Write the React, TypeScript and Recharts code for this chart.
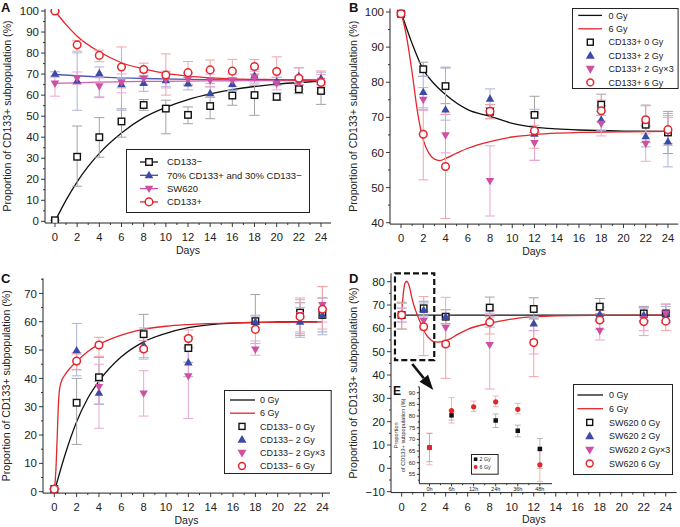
import React from "react";
import {
  ComposedChart,
  Line,
  Scatter,
  XAxis,
  YAxis,
  ErrorBar,
  Legend,
  Label,
  ReferenceArea,
  ReferenceLine,
} from "recharts";

const FONT = '"Liberation Sans", Arial, Helvetica, sans-serif';
const INK = "#222";
const BLACK = "#111";
const BLUE = "#3b4aa6";
const MAGENTA = "#cf4fa3";
const RED = "#e4252b";
const ERR_BLACK = "#a3a3a3";
const ERR_BLUE = "#aab3dc";
const ERR_MAGENTA = "#eaa6d2";
const ERR_RED = "#f2a3a5";
const Y_TITLE = "Proportion of CD133+ subpopulation (%)";

// ---- sampling days
const DAYS_A = [0, 2, 4, 6, 8, 10, 12, 14, 16, 18, 20, 22, 24];
const DAYS_BCD = [0, 2, 4, 8, 12, 18, 22, 24];

// ---- A: sorted subpopulations
const A_NEG = [0.5, 30.7, 40, 47.5, 55.3, 53.6, 50.6, 54.8, 59.8, 60, 59.2, 62.8, 62];
const A_NEG_ERR = [[0, 0], [14, 14.6], [9.5, 9.3], [7.5, 6], [2.5, 2.6], [12, 4], [4.2, 3.8], [6, 4.2], [4.6, 2.5], [9.6, 4.7], [1.6, 1.8], [2.1, 1.9], [6.4, 4.3]];
const A_MIX = [70.1, 66.8, 70.4, 65.2, 65.8, 67, 65.5, 60.9, 65.3, 69.3, 66.5, 69, 67.9];
const A_MIX_ERR = [[1, 1], [14, 13.3], [11.6, 3], [12.4, 3], [4, 3], [3, 4], [3, 3], [2, 3], [3, 3], [3, 3], [2, 2], [3, 4], [3, 3]];
const A_SW = [65.5, 68, 64.2, 66.1, 67.9, 67.4, 67.6, 67, 67, 68.4, 65.5, 65.8, 66.8];
const A_SW_ERR = [[6, 3], [3, 3], [5, 4], [5, 4], [3, 3], [4, 4], [3, 3], [3, 3], [3, 3], [3, 3], [3, 3], [3, 3], [3, 3]];
const A_POS = [100, 83.9, 78.9, 73.4, 72.2, 69.6, 70.7, 72, 71.4, 73.6, 71.2, 68, 66];
const A_POS_ERR = [[0, 0], [3, 2], [3, 2.5], [10, 9.5], [3, 3], [9.6, 10], [5.5, 5.3], [6.5, 4.7], [5, 5.6], [3.5, 3.3], [6.5, 7], [3, 5], [5, 5.5]];

const A_NEG_FIT_X = [0, 1, 2, 3, 4, 6, 8, 10, 12, 14, 16, 18, 20, 22, 24];
const A_NEG_FIT_Y = [0, 10.1, 18.8, 26.1, 32.3, 42, 49.3, 54.2, 57.9, 60.6, 62.6, 64.1, 65.2, 66, 66.6];
const A_POS_FIT_X = [0, 1, 2, 4, 6, 8, 10, 12, 14, 16, 18, 20, 22, 24];
const A_POS_FIT_Y = [100, 93.5, 88, 80.6, 75.4, 72.5, 70.3, 69, 68.2, 67.7, 67.5, 67.4, 67.2, 67.1];
const A_FLAT_FIT_X = [0, 4, 8, 12, 16, 20, 24];
const A_MIX_FIT_Y = [69.8, 68.6, 67.9, 67.5, 67.3, 67.2, 67.1];
const A_SW_FIT_Y = [65.6, 66.2, 66.5, 66.7, 66.8, 66.9, 66.9];

// ---- B: CD133+ irradiated
const B_0 = [99.5, 83.7, 78.9, 71.6, 70.7, 73.6, 67.9, 65.7];
const B_0_ERR = [[0.5, 0.5], [2, 2], [5, 5.4], [2, 2], [5, 5.3], [3, 3], [5, 5.6], [6, 6]];
const B_2 = [99.5, 77.2, 72.2, 75.3, 65.3, 69.3, 64.6, 63.1];
const B_2_ERR = [[0.5, 0.5], [4.5, 4.5], [3, 11.8], [2.5, 2.8], [7.5, 7], [3, 4], [3, 3], [7.2, 8]];
const B_2X3 = [99.5, 75, 64.9, 51.9, 62.7, 68.2, 62.5, 66];
const B_2X3_ERR = [[0.5, 0.5], [3, 3.5], [5, 6], [10, 10], [5, 5], [3.5, 3.5], [5, 5], [4, 4]];
const B_6 = [99.5, 65.2, 56, 71.7, 66.2, 71.9, 69.3, 66.5];
const B_6_ERR = [[0.5, 0.5], [13, 7], [14.8, 14.8], [2, 2], [5, 5], [3, 3], [4, 4], [4, 4]];

const B_0_FIT_X = [0, 1, 2, 3, 4, 6, 8, 10, 12, 14, 16, 20, 24];
const B_0_FIT_Y = [100, 91, 83.6, 79.5, 76.5, 72.2, 70.3, 68.3, 67.2, 66.7, 66.4, 66.1, 66];
const B_6_FIT_X = [0, 0.5, 1, 1.5, 2, 2.5, 3, 3.5, 4, 5, 6, 8, 10, 12, 14, 16, 20, 24];
const B_6_FIT_Y = [100, 93, 82.7, 71.2, 63.6, 59.8, 58.1, 57.7, 58.3, 59.8, 61.2, 63.1, 64.4, 65.1, 65.5, 65.7, 65.9, 66];

// ---- C: CD133- irradiated
const C_0 = [0.9, 31.4, 40.4, 55.6, 50.7, 60.2, 63.2, 62.4];
const C_0_ERR = [[0, 0], [14.7, 8.6], [9.5, 7], [6, 7], [5, 4], [1, 9.4], [8, 3.5], [6, 6]];
const C_2 = [0.9, 49.9, 34.9, 51.8, 45.6, 60, 60, 62.4];
const C_2_ERR = [[0, 0], [9, 9.5], [4, 4], [5, 6], [5, 5], [2, 2], [5.5, 5], [7, 6]];
const C_2X3 = [0.9, 46, 37, 34.7, 40.8, 50.2, 62.4, 65.9];
const C_2X3_ERR = [[0, 0], [3, 3], [14.6, 8], [8, 8], [15, 13], [2, 3], [6, 6], [6, 6.5]];
const C_6 = [0.9, 46.1, 51.8, 50.4, 54.1, 57.3, 61.8, 64.4];
const C_6_ERR = [[0, 0], [3, 2.5], [4, 2.7], [3, 3], [3, 3], [5, 5], [6, 6], [7, 8]];

const C_0_FIT_X = [0, 1, 2, 3, 4, 6, 8, 10, 12, 14, 16, 18, 20, 24];
const C_0_FIT_Y = [0, 13.5, 24.7, 33, 39, 47.6, 52.9, 55.9, 57.9, 59, 59.5, 59.8, 59.9, 60];
const C_6_FIT_X = [0, 0.15, 0.25, 0.35, 0.45, 0.6, 1, 1.5, 2, 3, 4, 6, 8, 10, 12, 16, 20, 24];
const C_6_FIT_Y = [0, 8, 18, 29, 35.5, 38.5, 41.5, 44, 46, 49.5, 52, 55.3, 57.3, 58.4, 59, 59.6, 59.8, 60];

// ---- D: SW620 irradiated
const D_0 = [65.7, 68.6, 65, 68.9, 68.3, 69.3, 66.4, 66.4];
const D_0_ERR = [[6, 5.5], [3, 3], [3, 3], [4, 4.5], [4, 4.8], [3, 3.5], [3, 3], [4, 4]];
const D_2 = [65.7, 67.9, 65, 63.5, 62.1, 66.1, 65.7, 66.4];
const D_2_ERR = [[3, 3], [3, 3], [3, 3], [3, 3], [3, 3], [3, 3], [3, 3], [3, 3]];
const D_2X3 = [65.7, 63.3, 60.3, 52.9, 54, 59, 64, 66.4];
const D_2X3_ERR = [[3, 3], [4, 4], [8, 13], [18.9, 13], [5, 5], [4, 4], [5, 5], [4, 4]];
const D_6 = [65.7, 60.7, 53.3, 62.6, 53.9, 63.6, 62.9, 63.1];
const D_6_ERR = [[6, 5], [12.4, 12.9], [14.7, 12], [5, 5], [14.6, 10], [4, 4], [6, 6], [4, 4]];

const D_0_FIT_X = [0, 24];
const D_0_FIT_Y = [65.7, 65.7];
const D_6_FIT_X = [0, 0.1, 0.2, 0.3, 0.45, 0.6, 0.75, 0.9, 1.1, 1.36, 1.6, 1.8, 2, 2.27, 2.6, 2.9, 3.3, 3.8, 4.3, 5, 6, 8, 10, 12, 14, 18, 24];
const D_6_FIT_Y = [65.7, 72.5, 77, 79.3, 80.2, 79.2, 77, 73.6, 70, 66.5, 63.6, 61.4, 59.3, 57, 55.3, 54.3, 54.1, 54.5, 55.3, 57.2, 59.6, 62.2, 64, 65, 65.4, 65.6, 65.7];

// ---- E: inset, hours after irradiation
const E_HOURS = ["0h", "6h", "12h", "24h", "36h", "48h"];
const E_2 = [66.5, 80.3, null, 78.1, 73.7, 65.9];
const E_2_ERR = [[6, 6], [2, 2], [0, 0], [3, 2.8], [2.6, 2.4], [8.3, 4.5]];
const E_6 = [66.5, 82.3, 84, 86.1, 82.9, 59.1];
const E_6_ERR = [[7.4, 6.2], [5.3, 5.6], [2, 2.4], [2.1, 2.5], [2, 2.5], [7.2, 6.3]];

// ---- tick labels
const X_TICK_LABELS = [0, 2, 4, 6, 8, 10, 12, 14, 16, 18, 20, 22, 24];
const A_Y_TICK_LABELS = [0, 10, 20, 30, 40, 50, 60, 70, 80, 90, 100];
const B_Y_TICK_LABELS = [40, 50, 60, 70, 80, 90, 100];
const C_Y_TICK_LABELS = [0, 10, 20, 30, 40, 50, 60, 70];
const D_Y_TICK_LABELS = [-10, 0, 10, 20, 30, 40, 50, 60, 70, 80];
const E_Y_TICK_LABELS = [55, 60, 65, 70, 75, 80, 85, 90];

const steps = (a: number, b: number, s: number) => {
  const out: number[] = [];
  for (let v = a; v <= b + 1e-9; v += s) out.push(Math.round(v * 1000) / 1000);
  return out;
};
const has = (arr: number[], v: number) => arr.some((m) => Math.abs(m - v) < 1e-6);

const toPts = (xs: number[], ys: (number | null)[], errs: number[][]) =>
  xs.map((x, i) => ({ x, y: ys[i], err: errs[i] })).filter((p) => p.y !== null);
const toCurve = (xs: number[], ys: number[]) => xs.map((x, i) => ({ x, y: ys[i] }));

// ---- marker shapes
const openSquare = (c: string, s = 6.5) => (p: any) => (
  <rect x={p.cx - s / 2} y={p.cy - s / 2} width={s} height={s} fill="#fff" stroke={c} strokeWidth={1.4} />
);
const solidSquare = (c: string, s = 4.5) => (p: any) => (
  <rect x={p.cx - s / 2} y={p.cy - s / 2} width={s} height={s} fill={c} />
);
const triangle = (c: string, down = false, s = 8.5) => (p: any) => {
  const h = s * 0.87;
  const k = down ? -1 : 1;
  const tip = p.cy - k * h * 0.6;
  const base = p.cy + k * h * 0.4;
  return <polygon points={`${p.cx},${tip} ${p.cx - s / 2},${base} ${p.cx + s / 2},${base}`} fill={c} />;
};
const openCircle = (c: string, r = 3.8) => (p: any) => (
  <circle cx={p.cx} cy={p.cy} r={r} fill="#fff" stroke={c} strokeWidth={1.5} />
);
const solidCircle = (c: string, r = 2.6) => (p: any) => <circle cx={p.cx} cy={p.cy} r={r} fill={c} />;

// ---- axis ticks (drawn by hand to get major/minor marks)
const xTick = (majors: number[], dy: number, fs = 11.2, maj = 4, min = 2, fmt = (v: number) => String(v)) => (p: any) => {
  const v = p.payload.value;
  const big = has(majors, v);
  return (
    <g>
      <line x1={p.x} x2={p.x} y1={p.y} y2={p.y + (big ? maj : min)} stroke={INK} strokeWidth={0.9} />
      {big && (
        <text x={p.x} y={p.y + dy} textAnchor="middle" fontSize={fs} fill={INK}>
          {fmt(v)}
        </text>
      )}
    </g>
  );
};
const yTick = (majors: number[], fs = 11.5, maj = 4, min = 2, gap = 6) => (p: any) => {
  const v = p.payload.value;
  const big = has(majors, v);
  return (
    <g>
      <line x1={p.x} x2={p.x - (big ? maj : min)} y1={p.y} y2={p.y} stroke={INK} strokeWidth={0.9} />
      {big && (
        <text x={p.x - gap} y={p.y} dy="0.36em" textAnchor="end" fontSize={fs} fill={INK}>
          {v < 0 ? `\u2212${-v}` : v}
        </text>
      )}
    </g>
  );
};

// ---- legends
type LegendEntry = { label: string; color: string; line?: boolean; marker?: (p: any) => React.ReactElement };
type LegendSpec = {
  left: number; top: number; w: number; h: number; y0: number; dy: number;
  lx1: number; lx2: number; mx: number; tx: number; fs: number; entries: LegendEntry[];
};

const LegendBox = ({ spec }: { spec: LegendSpec }) => (
  <svg width={spec.w} height={spec.h} style={{ display: "block", overflow: "visible" }}>
    <rect x={0.5} y={0.5} width={spec.w - 1} height={spec.h - 1} fill="#fff" stroke={INK} strokeWidth={1} />
    {spec.entries.map((e, i) => {
      const cy = spec.y0 + i * spec.dy;
      return (
        <g key={e.label}>
          {e.line && <line x1={spec.lx1} x2={spec.lx2} y1={cy} y2={cy} stroke={e.color} strokeWidth={1.3} />}
          {e.marker && e.marker({ cx: spec.mx, cy })}
          <text x={spec.tx} y={cy} dy="0.36em" fontSize={spec.fs} fill={INK}>
            {e.label}
          </text>
        </g>
      );
    })}
  </svg>
);

const legendOf = (spec: LegendSpec) => (
  <Legend
    layout="vertical"
    align="center"
    verticalAlign="middle"
    wrapperStyle={{ left: spec.left, top: spec.top, width: spec.w, height: spec.h, lineHeight: 0 }}
    content={() => <LegendBox spec={spec} />}
  />
);

type Series = { key: string; data: any[]; shape: (p: any) => React.ReactElement; err: string };
type Curve = { key: string; data: any[]; color: string };

type PanelProps = {
  left: number; top: number; width: number; height: number;
  margin: { top: number; right: number; bottom: number; left: number };
  yWidth: number; xHeight: number;
  xDomain: [number, number]; yDomain: [number, number];
  yTicks: number[]; yMajors: number[];
  titleOffset: number; daysOffset: number; tickDy: number;
  curves: Curve[]; series: Series[]; legend: LegendSpec; extras?: React.ReactNode;
};

const Panel = (p: PanelProps) => (
  <div style={{ position: "absolute", left: p.left, top: p.top }}>
    <ComposedChart width={p.width} height={p.height} margin={p.margin}>
      <XAxis
        type="number"
        dataKey="x"
        domain={p.xDomain}
        ticks={steps(0, 24, 1)}
        interval={0}
        allowDataOverflow
        tickLine={false}
        tickSize={0}
        tickMargin={0}
        height={p.xHeight}
        axisLine={{ stroke: INK }}
        tick={xTick(X_TICK_LABELS, p.tickDy)}
      >
        <Label value="Days" position="insideBottom" offset={p.daysOffset} fontSize={10.5} fill={INK} />
      </XAxis>
      <YAxis
        type="number"
        dataKey="y"
        domain={p.yDomain}
        ticks={p.yTicks}
        interval={0}
        allowDataOverflow
        tickLine={false}
        tickSize={0}
        tickMargin={0}
        width={p.yWidth}
        axisLine={{ stroke: INK }}
        tick={yTick(p.yMajors)}
      >
        <Label
          value={Y_TITLE}
          angle={-90}
          position="insideLeft"
          offset={p.titleOffset}
          fontSize={10.6}
          fill={INK}
          style={{ textAnchor: "middle" }}
        />
      </YAxis>
      {p.curves.map((c) => (
        <Line
          key={c.key}
          data={c.data}
          dataKey="y"
          type="monotone"
          stroke={c.color}
          strokeWidth={1.3}
          dot={false}
          activeDot={false}
          isAnimationActive={false}
        />
      ))}
      {p.series.map((s) => (
        <Scatter key={s.key} name={s.key} data={s.data} shape={s.shape} isAnimationActive={false}>
          <ErrorBar dataKey="err" direction="y" width={5} stroke={s.err} strokeWidth={1} isAnimationActive={false} />
        </Scatter>
      ))}
      {p.extras}
      {legendOf(p.legend)}
    </ComposedChart>
  </div>
);

const arrowShape = (p: any) => {
  const { x1, y1, x2, y2 } = p;
  const a = Math.atan2(y2 - y1, x2 - x1);
  const L = 15;
  const W = 5.5;
  const bx = x2 - L * Math.cos(a);
  const by = y2 - L * Math.sin(a);
  const nx = -Math.sin(a);
  const ny = Math.cos(a);
  return (
    <g>
      <line x1={x1} y1={y1} x2={bx} y2={by} stroke={BLACK} strokeWidth={2.6} />
      <polygon points={`${x2},${y2} ${bx + W * nx},${by + W * ny} ${bx - W * nx},${by - W * ny}`} fill={BLACK} />
    </g>
  );
};

const letter = (t: string, left: number, top: number, fs = 13) => (
  <div style={{ position: "absolute", left, top, fontSize: fs, fontWeight: 700, lineHeight: 1, color: BLACK }}>{t}</div>
);

const doseEntries = (prefix: string): LegendEntry[] => [
  { label: "0 Gy", color: BLACK, line: true },
  { label: "6 Gy", color: RED, line: true },
  { label: `${prefix} 0 Gy`, color: BLACK, marker: openSquare(BLACK, 6) },
  { label: `${prefix} 2 Gy`, color: BLUE, marker: triangle(BLUE, false, 9) },
  { label: `${prefix} 2 Gy\u00d73`, color: MAGENTA, marker: triangle(MAGENTA, true, 9) },
  { label: `${prefix} 6 Gy`, color: RED, marker: openCircle(RED, 3.4) },
];

const doseSeries = (y0: number[], e0: number[][], y2: number[], e2: number[][], y3: number[], e3: number[][], y6: number[], e6: number[][]): Series[] => [
  { key: "0Gy", data: toPts(DAYS_BCD, y0, e0), shape: openSquare(BLACK), err: ERR_BLACK },
  { key: "2Gy", data: toPts(DAYS_BCD, y2, e2), shape: triangle(BLUE), err: ERR_BLUE },
  { key: "2Gyx3", data: toPts(DAYS_BCD, y3, e3), shape: triangle(MAGENTA, true), err: ERR_MAGENTA },
  { key: "6Gy", data: toPts(DAYS_BCD, y6, e6), shape: openCircle(RED), err: ERR_RED },
];

export default function App() {
  return (
    <div
      style={{
        position: "absolute",
        left: 0,
        top: 0,
        width: 680,
        height: 527,
        background: "#fff",
        fontFamily: FONT,
        overflow: "hidden",
      }}
    >
      {/* A */}
      <Panel
        left={0}
        top={0}
        width={340}
        height={262}
        margin={{ top: 8.9, right: 9, bottom: 0, left: 0 }}
        yWidth={45}
        xHeight={39}
        xDomain={[-0.9, 24.9]}
        yDomain={[-0.8, 101]}
        yTicks={steps(0, 100, 5)}
        yMajors={A_Y_TICK_LABELS}
        titleOffset={7}
        daysOffset={8}
        tickDy={18.3}
        curves={[
          { key: "neg", data: toCurve(A_NEG_FIT_X, A_NEG_FIT_Y), color: BLACK },
          { key: "mix", data: toCurve(A_FLAT_FIT_X, A_MIX_FIT_Y), color: "#4d5cb3" },
          { key: "sw", data: toCurve(A_FLAT_FIT_X, A_SW_FIT_Y), color: "#d45fb0" },
          { key: "pos", data: toCurve(A_POS_FIT_X, A_POS_FIT_Y), color: RED },
        ]}
        series={[
          { key: "neg", data: toPts(DAYS_A, A_NEG, A_NEG_ERR), shape: openSquare(BLACK), err: ERR_BLACK },
          { key: "mix", data: toPts(DAYS_A, A_MIX, A_MIX_ERR), shape: triangle(BLUE), err: ERR_BLUE },
          { key: "sw", data: toPts(DAYS_A, A_SW, A_SW_ERR), shape: triangle(MAGENTA, true), err: ERR_MAGENTA },
          { key: "pos", data: toPts(DAYS_A, A_POS, A_POS_ERR), shape: openCircle(RED), err: ERR_RED },
        ]}
        legend={{
          left: 126, top: 149, w: 184, h: 64, y0: 13, dy: 13.3, lx1: 14, lx2: 32, mx: 23, tx: 41, fs: 9.5,
          entries: [
            { label: "CD133\u2212", color: BLACK, line: true, marker: openSquare(BLACK) },
            { label: "70% CD133+ and 30% CD133\u2212", color: BLUE, line: true, marker: triangle(BLUE) },
            { label: "SW620", color: MAGENTA, line: true, marker: triangle(MAGENTA, true) },
            { label: "CD133+", color: RED, line: true, marker: openCircle(RED) },
          ],
        }}
      />

      {/* B */}
      <Panel
        left={340}
        top={0}
        width={340}
        height={262}
        margin={{ top: 8.5, right: 1.7, bottom: 0, left: 0 }}
        yWidth={50}
        xHeight={37.9}
        xDomain={[-0.99, 24.93]}
        yDomain={[39.6, 101]}
        yTicks={steps(40, 100, 5)}
        yMajors={B_Y_TICK_LABELS}
        titleOffset={13.3}
        daysOffset={7}
        tickDy={18.2}
        curves={[
          { key: "b0", data: toCurve(B_0_FIT_X, B_0_FIT_Y), color: BLACK },
          { key: "b6", data: toCurve(B_6_FIT_X, B_6_FIT_Y), color: RED },
        ]}
        series={doseSeries(B_0, B_0_ERR, B_2, B_2_ERR, B_2X3, B_2X3_ERR, B_6, B_6_ERR)}
        legend={{
          left: 231.7, top: 8.3, w: 106.6, h: 81, y0: 7.4, dy: 13.4, lx1: 6.3, lx2: 30, mx: 18.3, tx: 36.6, fs: 9,
          entries: doseEntries("CD133+"),
        }}
      />

      {/* C */}
      <Panel
        left={0}
        top={262}
        width={340}
        height={265}
        margin={{ top: 16.4, right: 10, bottom: 0, left: 0 }}
        yWidth={43}
        xHeight={33.9}
        xDomain={[-1.01, 24.68]}
        yDomain={[-0.5, 75.3]}
        yTicks={steps(0, 75, 5)}
        yMajors={C_Y_TICK_LABELS}
        titleOffset={6}
        daysOffset={3.5}
        tickDy={18}
        curves={[
          { key: "c0", data: toCurve(C_0_FIT_X, C_0_FIT_Y), color: BLACK },
          { key: "c6", data: toCurve(C_6_FIT_X, C_6_FIT_Y), color: RED },
        ]}
        series={doseSeries(C_0, C_0_ERR, C_2, C_2_ERR, C_2X3, C_2X3_ERR, C_6, C_6_ERR)}
        legend={{
          left: 224, top: 128, w: 107.7, h: 84, y0: 10, dy: 13.2, lx1: 6, lx2: 31, mx: 18, tx: 36, fs: 9,
          entries: doseEntries("CD133\u2212"),
        }}
      />

      {/* D */}
      <Panel
        left={340}
        top={262}
        width={340}
        height={265}
        margin={{ top: 11.3, right: 3.3, bottom: 0, left: 0 }}
        yWidth={51}
        xHeight={34.4}
        xDomain={[-0.97, 24.99]}
        yDomain={[-10.4, 83.6]}
        yTicks={steps(-10, 80, 5)}
        yMajors={D_Y_TICK_LABELS}
        titleOffset={13.3}
        daysOffset={3.8}
        tickDy={18}
        curves={[
          { key: "d0", data: toCurve(D_0_FIT_X, D_0_FIT_Y), color: BLACK },
          { key: "d6", data: toCurve(D_6_FIT_X, D_6_FIT_Y), color: RED },
        ]}
        series={doseSeries(D_0, D_0_ERR, D_2, D_2_ERR, D_2X3, D_2X3_ERR, D_6, D_6_ERR)}
        legend={{
          left: 233.3, top: 122, w: 100, h: 91, y0: 11, dy: 13.7, lx1: 4.4, lx2: 30, mx: 16.7, tx: 36, fs: 9,
          entries: doseEntries("SW620"),
        }}
        extras={[
          <ReferenceArea
            key="zoombox"
            x1={-0.61}
            x2={2.96}
            y1={46.4}
            y2={83.6}
            fill="none"
            stroke={BLACK}
            strokeWidth={2.2}
            strokeDasharray="6 3"
            ifOverflow="visible"
          />,
          <ReferenceLine
            key="arrow"
            segment={[{ x: 0.96, y: 44.7 }, { x: 2.87, y: 33.6 }]}
            ifOverflow="visible"
            shape={arrowShape}
          />,
        ]}
      />

      {/* E inset */}
      <div style={{ position: "absolute", left: 380, top: 380 }}>
        <ComposedChart width={180} height={115} margin={{ top: 6.9, right: 8, bottom: 0, left: 0 }}>
          <XAxis
            type="number"
            dataKey="x"
            domain={[-0.46, 5.55]}
            ticks={steps(0, 5, 0.5)}
            interval={0}
            allowDataOverflow
            tickLine={false}
            tickSize={0}
            tickMargin={0}
            height={11.3}
            axisLine={{ stroke: INK }}
            tick={xTick([0, 1, 2, 3, 4, 5], 7.3, 5.5, 2.5, 1.5, (v) => E_HOURS[v])}
          />
          <YAxis
            type="number"
            dataKey="y"
            domain={[51, 92.5]}
            ticks={steps(52.5, 92.5, 2.5)}
            interval={0}
            allowDataOverflow
            tickLine={false}
            tickSize={0}
            tickMargin={0}
            width={39.3}
            axisLine={{ stroke: INK }}
            tick={yTick(E_Y_TICK_LABELS, 5.8, 2.5, 1.5, 4)}
          >
            <Label value="Proportion" angle={-90} position="insideLeft" offset={16} fontSize={5.6} fill={INK} style={{ textAnchor: "middle" }} />
            <Label
              value="of CD133+ subpopulation (%)"
              angle={-90}
              position="insideLeft"
              offset={23}
              fontSize={5.6}
              fill={INK}
              style={{ textAnchor: "middle" }}
            />
          </YAxis>
          <Scatter name="2 Gy" data={toPts([0, 1, 2, 3, 4, 5], E_2, E_2_ERR)} shape={solidSquare(BLACK)} isAnimationActive={false}>
            <ErrorBar dataKey="err" direction="y" width={3} stroke={ERR_BLACK} strokeWidth={0.8} isAnimationActive={false} />
          </Scatter>
          <Scatter name="6 Gy" data={toPts([0, 1, 2, 3, 4, 5], E_6, E_6_ERR)} shape={solidCircle(RED)} isAnimationActive={false}>
            <ErrorBar dataKey="err" direction="y" width={3} stroke={ERR_RED} strokeWidth={0.8} isAnimationActive={false} />
          </Scatter>
          {legendOf({
            left: 90.7, top: 74.3, w: 27.6, h: 20.7, y0: 5.2, dy: 7.7, lx1: 0, lx2: 0, mx: 4.6, tx: 8.6, fs: 5.2,
            entries: [
              { label: "2 Gy", color: BLACK, marker: solidSquare(BLACK, 3.6) },
              { label: "6 Gy", color: RED, marker: solidCircle(RED, 2) },
            ],
          })}
        </ComposedChart>
      </div>

      {letter("A", 1, 1)}
      {letter("B", 349, 1)}
      {letter("C", 1, 272)}
      {letter("D", 349, 272)}
      {letter("E", 393, 385, 12)}
    </div>
  );
}
